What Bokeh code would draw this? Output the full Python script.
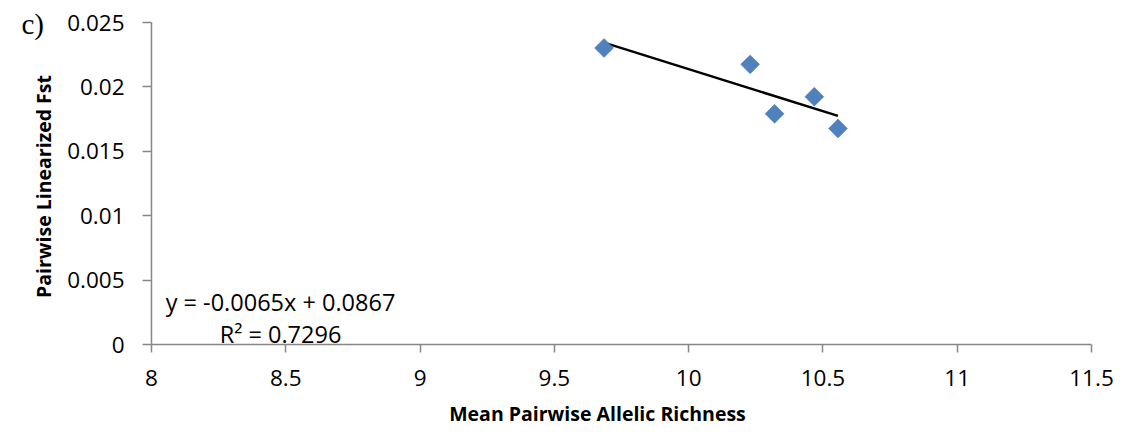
import numpy as np
from bokeh.plotting import figure
from bokeh.models import Label, FixedTicker, Range1d
from bokeh.embed import file_html
from bokeh.resources import INLINE

# Mean pairwise allelic richness vs pairwise linearized Fst
richness = [9.685, 10.229, 10.320, 10.468, 10.556]
fst = [0.02302, 0.02175, 0.0179085, 0.01924, 0.01677]

x_ticks = [8, 8.5, 9, 9.5, 10, 10.5, 11, 11.5]
x_tick_labels = ["8", "8.5", "9", "9.5", "10", "10.5", "11", "11.5"]
y_ticks = [0, 0.005, 0.01, 0.015, 0.02, 0.025]
y_tick_labels = ["0", "0.005", "0.01", "0.015", "0.02", "0.025"]

x_title = "Mean Pairwise Allelic Richness"
y_title = "Pairwise Linearized Fst"
panel_tag = "c)"

# least-squares linear trend
xs = np.array(richness)
ys = np.array(fst)
slope, intercept = np.polyfit(xs, ys, 1)
pred = slope * xs + intercept
r2 = 1 - np.sum((ys - pred) ** 2) / np.sum((ys - ys.mean()) ** 2)
eq_text = f"y = {slope:.4f}x + {intercept:.4f}"
r2_text = f"R\u00b2 = {r2:.4f}"

W, H = 1123, 434
# pixel box of the axes inside the canvas
AX_L, AX_R, AX_T, AX_B = 151, 1091, 22, 344
x_lo, x_hi = x_ticks[0], x_ticks[-1]
y_lo, y_hi = y_ticks[0], y_ticks[-1]
kx = (x_hi - x_lo) / (AX_R - AX_L)
ky = (y_hi - y_lo) / (AX_B - AX_T)

AXIS = "#868686"
MARKER = "#4F81BD"
FONT = "Open Sans"

p = figure(width=W, height=H,
           x_range=Range1d(x_lo - AX_L * kx, x_hi + (W - AX_R) * kx),
           y_range=Range1d(y_lo - (H - AX_B) * ky, y_hi + AX_T * ky),
           output_backend="svg", toolbar_location=None,
           min_border=0)
p.outline_line_color = None
p.grid.grid_line_color = None
p.background_fill_color = "white"
p.border_fill_color = "white"

for ax in (p.xaxis[0], p.yaxis[0]):
    ax.axis_line_color = AXIS
    ax.axis_line_width = 1.5
    ax.major_tick_line_color = AXIS
    ax.major_tick_line_width = 1.5
    ax.major_tick_in = 0
    ax.minor_tick_line_color = None
    ax.major_label_text_font = FONT
    ax.major_label_text_font_size = "22.5px"
    ax.major_label_text_color = "black"

p.xaxis.fixed_location = y_lo
p.xaxis.bounds = (x_lo, x_hi)
p.xaxis.ticker = FixedTicker(ticks=x_ticks)
p.xaxis.major_label_overrides = dict(zip(x_ticks, x_tick_labels))
p.xaxis.major_tick_out = 8
p.xaxis.major_label_standoff = 17

p.yaxis.fixed_location = x_lo
p.yaxis.bounds = (y_lo, y_hi)
p.yaxis.ticker = FixedTicker(ticks=y_ticks)
p.yaxis.major_label_overrides = dict(zip(y_ticks, y_tick_labels))
p.yaxis.major_tick_out = 9
p.yaxis.major_label_standoff = 18

# trendline over the observed range
x_line = [xs.min(), xs.max()]
y_line = [slope * v + intercept for v in x_line]
p.line(x_line, y_line, line_color="black", line_width=2.5)

p.scatter(richness, fst, marker="square", size=13.4, angle=np.pi / 4,
          fill_color=MARKER, line_color=MARKER, line_width=0.5)

# texts in screen units (frame spans the whole canvas)
def note(x, y, text, **kw):
    opts = dict(x_units="screen", y_units="screen", text_align="center",
                text_baseline="alphabetic", text_font=FONT,
                text_font_size="23.5px", text_color="black")
    opts.update(kw)
    p.add_layout(Label(x=x, y=y, text=text, **opts))

note(280, 133, eq_text)
note(280, 101, r2_text)
note(597, 21, x_title, text_font_size="19.5px", text_font_style="bold")
note(42.5, 248, y_title, angle=np.pi / 2, text_font_size="19.5px",
     text_font_style="bold")
note(21, 411, panel_tag, text_align="left", text_font="Liberation Serif",
     text_font_size="29px")

open("out.html", "w").write(file_html(p, INLINE))
